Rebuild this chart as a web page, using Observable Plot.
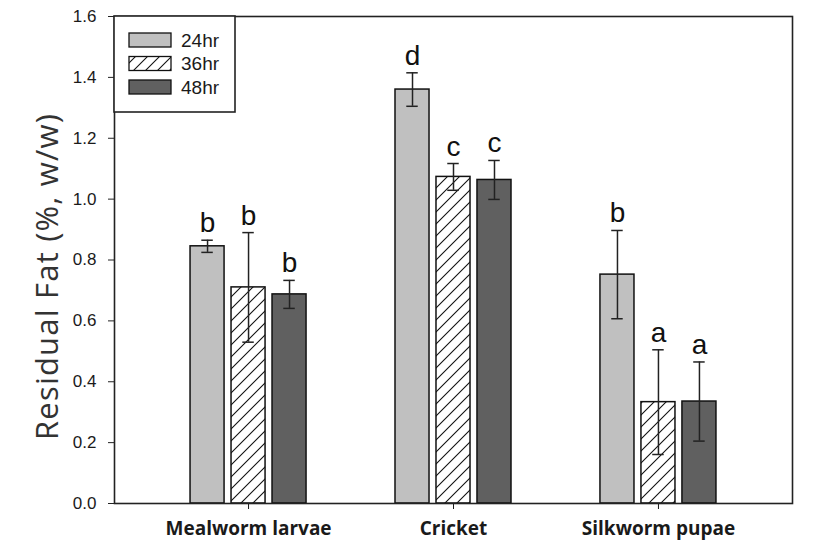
<!DOCTYPE html>
<html>
<head>
<meta charset="utf-8">
<script src="https://cdn.jsdelivr.net/npm/d3@7"></script>
<script src="https://cdn.jsdelivr.net/npm/@observablehq/plot@0.6"></script>
<style>
  html, body { margin: 0; padding: 0; background: #fff; }
  #chart { position: relative; width: 827px; height: 556px; }
</style>
</head>
<body>
<div id="chart"></div>
<script>
const groups = ["Mealworm larvae", "Cricket", "Silkworm pupae"];
const series = ["24hr", "36hr", "48hr"];
const mean24 = [0.845, 1.360, 0.752];
const mean36 = [0.710, 1.073, 0.333];
const mean48 = [0.687, 1.063, 0.335];
const err24 = [0.020, 0.055, 0.145];
const err36 = [0.180, 0.044, 0.172];
const err48 = [0.046, 0.064, 0.130];
const letters24 = ["b", "d", "b"];
const letters36 = ["b", "c", "a"];
const letters48 = ["b", "c", "a"];
const yTicks = [0, 0.2, 0.4, 0.6, 0.8, 1.0, 1.2, 1.4, 1.6];

const fills = {"24hr": "#c0c0c0", "36hr": "url(#hatch)", "48hr": "#606060"};
const means = [mean24, mean36, mean48];
const errs = [err24, err36, err48];
const letters = [letters24, letters36, letters48];

const barStep = 0.2, barHalf = 0.083, capHalf = 0.028;
const data = [];
groups.forEach((g, gi) => {
  series.forEach((s, si) => {
    const c = gi + (si - 1) * barStep;
    data.push({
      group: g, series: s, c,
      x1: c - barHalf, x2: c + barHalf,
      mean: means[si][gi], err: errs[si][gi],
      lo: means[si][gi] - errs[si][gi], hi: means[si][gi] + errs[si][gi],
      letter: letters[si][gi], fill: fills[s]
    });
  });
});

const plot = Plot.plot({
  width: 827,
  height: 556,
  marginLeft: 114,
  marginRight: 35,
  marginTop: 16,
  marginBottom: 53,
  style: {fontFamily: "'Liberation Sans', Arial, sans-serif", color: "#1a1a1a", background: "#fff"},
  x: {domain: [-0.654, 2.654]},
  y: {domain: [0, 1.6]},
  marks: [
    Plot.rectY(data, {x1: "x1", x2: "x2", y1: 0, y2: "mean", fill: "fill", stroke: "#111", strokeWidth: 1.5}),
    Plot.ruleX(data, {x: "c", y1: "lo", y2: "hi", stroke: "#222", strokeWidth: 1.5}),
    Plot.ruleY(data, {y: "hi", x1: d => d.c - capHalf, x2: d => d.c + capHalf, stroke: "#222", strokeWidth: 1.5}),
    Plot.ruleY(data, {y: "lo", x1: d => d.c - capHalf, x2: d => d.c + capHalf, stroke: "#222", strokeWidth: 1.5}),
    Plot.text(data, {x: "c", y: "hi", text: "letter", dy: -8, lineAnchor: "bottom", fontSize: 28, fill: "#111"}),
    Plot.axisY({ticks: yTicks, tickFormat: d3.format(".1f"), tickSize: 6, tickPadding: 12, fontSize: 17, label: null, stroke: "#222"}),
    Plot.axisX({ticks: [0, 1, 2], tickFormat: i => groups[i], tickSize: 6, tickPadding: 12, fontSize: 19, fontWeight: "bold", label: null, fontFamily: "'Open Sans', 'Noto Sans', sans-serif"}),
    Plot.frame({stroke: "#222", strokeWidth: 1.6})
  ]
});

const svg = d3.select(plot);
const defs = svg.insert("defs", ":first-child");
const pat = defs.append("pattern").attr("id", "hatch").attr("patternUnits", "userSpaceOnUse")
  .attr("width", 12).attr("height", 12);
pat.append("rect").attr("width", 12).attr("height", 12).attr("fill", "#fff");
pat.append("path").attr("d", "M-3,3 L3,-3 M0,12 L12,0 M9,15 L15,9")
  .attr("stroke", "#111").attr("stroke-width", 1.1);

// y-axis title
svg.append("text")
  .attr("transform", "translate(58,277) rotate(-90)")
  .attr("text-anchor", "middle")
  .attr("font-family", "'Open Sans', 'Noto Sans', sans-serif")
  .attr("font-size", 31)
  .attr("textLength", 326)
  .attr("lengthAdjust", "spacing")
  .attr("fill", "#333")
  .text("Residual Fat (%, w/w)");

// legend
const lg = svg.append("g");
lg.append("rect").attr("x", 114).attr("y", 16).attr("width", 121).attr("height", 96)
  .attr("fill", "#fff").attr("stroke", "#222").attr("stroke-width", 1.6);
series.forEach((s, i) => {
  const yy = 33 + i * 23.5;
  lg.append("rect").attr("x", 129).attr("y", yy).attr("width", 42).attr("height", 14)
    .attr("fill", fills[s]).attr("stroke", "#111").attr("stroke-width", 1.3);
  lg.append("text").attr("x", 181).attr("y", yy + 13.5)
    .attr("text-anchor", "start")
    .attr("font-family", "'Liberation Sans', Arial, sans-serif").attr("font-size", 19)
    .attr("fill", "#1a1a1a").text(s);
});

document.getElementById("chart").appendChild(plot);
</script>
</body>
</html>
